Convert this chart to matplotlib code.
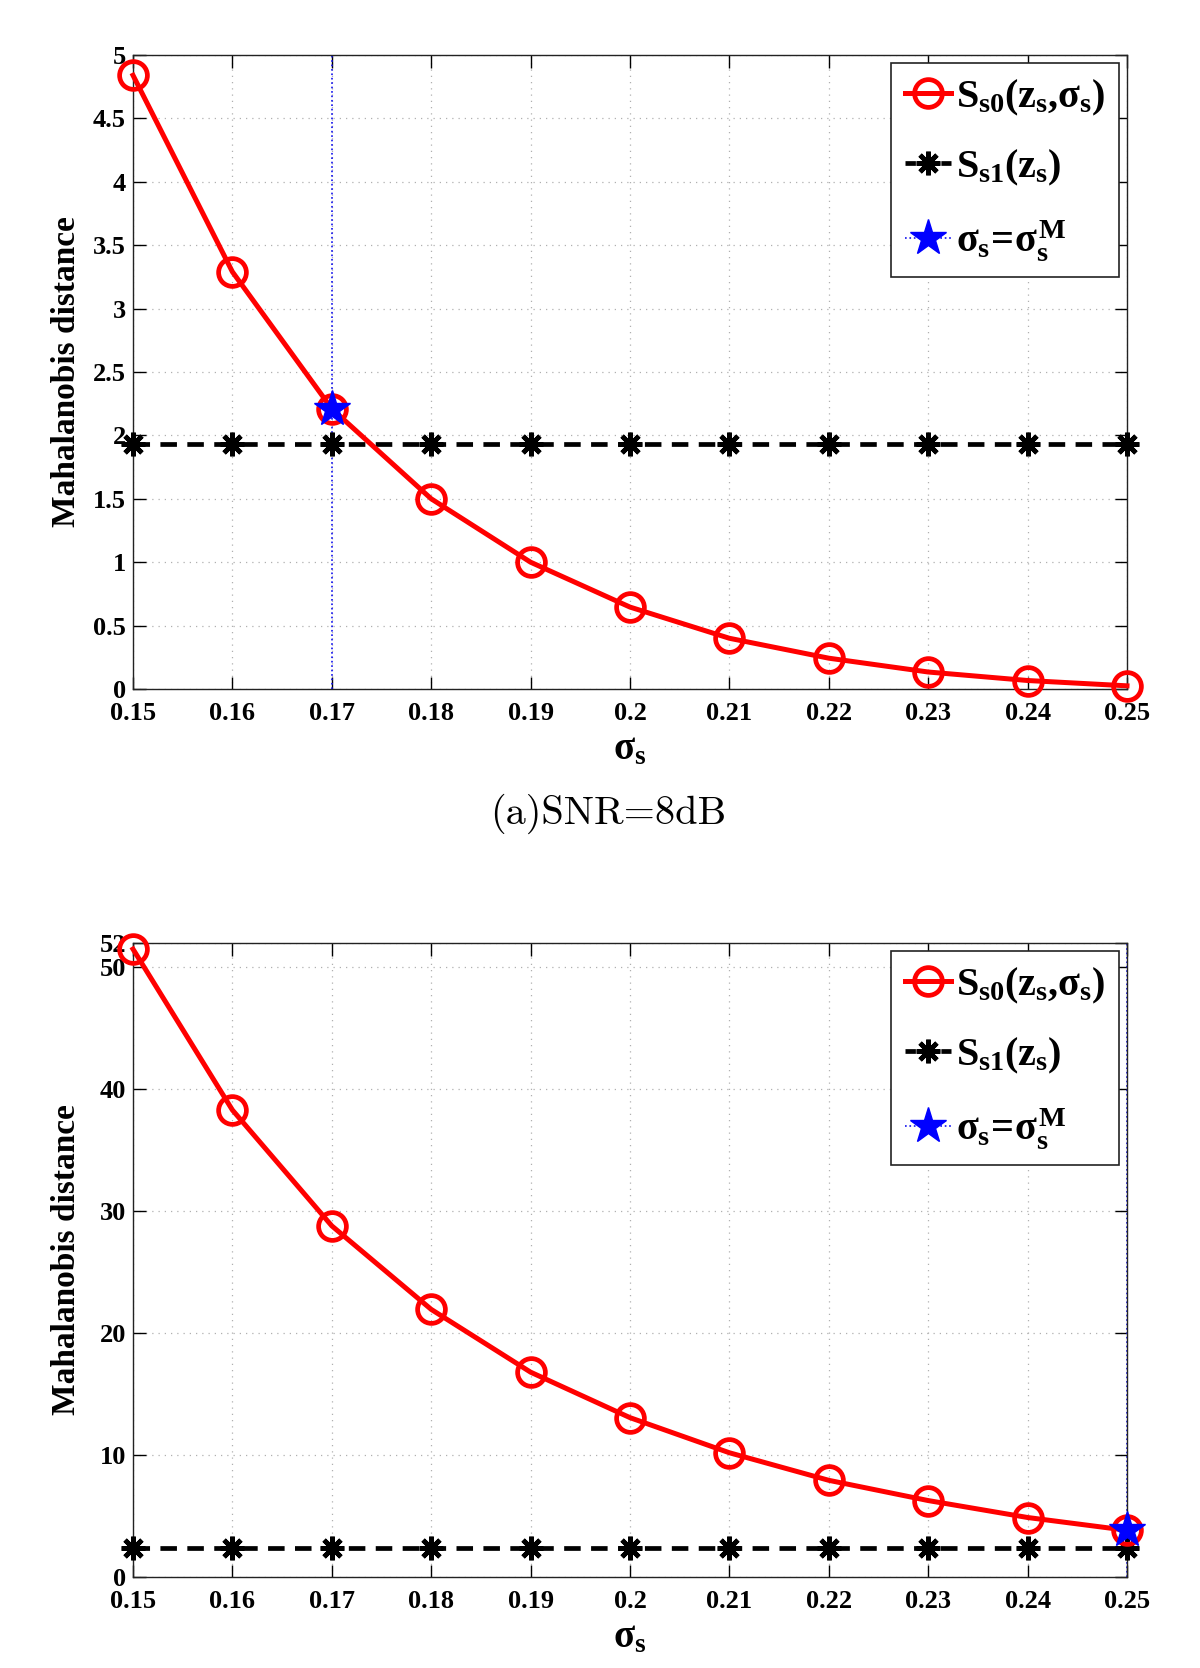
import matplotlib
matplotlib.use('Agg')
import matplotlib.pyplot as plt
from matplotlib.lines import Line2D

# ---------------- data ----------------
sigma_s = [0.15, 0.16, 0.17, 0.18, 0.19, 0.20, 0.21, 0.22, 0.23, 0.24, 0.25]
x_ticklabels = ['0.15', '0.16', '0.17', '0.18', '0.19', '0.2', '0.21', '0.22', '0.23', '0.24', '0.25']

# (a) SNR = 8 dB
s0_a = [4.84, 3.29, 2.21, 1.50, 1.00, 0.646, 0.40, 0.243, 0.134, 0.067, 0.025]
s1_a = [1.93] * 11
opt_sigma_a = 0.17
opt_value_a = 2.21
yticks_a = [0, 0.5, 1, 1.5, 2, 2.5, 3, 3.5, 4, 4.5, 5]
ytick_labels_a = ['0', '0.5', '1', '1.5', '2', '2.5', '3', '3.5', '4', '4.5', '5']
ylim_a = (0, 5)

# (b)
s0_b = [51.5, 38.3, 28.8, 21.95, 16.8, 13.07, 10.19, 7.93, 6.27, 4.88, 3.83]
s1_b = [2.35] * 11
opt_sigma_b = 0.25
opt_value_b = 3.83
yticks_b = [0, 10, 20, 30, 40, 50, 52]
ytick_labels_b = ['0', '10', '20', '30', '40', '50', '52']
ylim_b = (0, 52)

caption_a = '(a)SNR=8dB'
ylabel = 'Mahalanobis distance'
xlabel = r'$\sigma_s$'
leg_labels = [r'$S_{s0}(z_s{,}\sigma_s)$', r'$S_{s1}(z_s)$', r'$\sigma_s\!=\!\sigma_s^M$']

# ---------------- style ----------------
plt.rcParams['font.family'] = ['Liberation Serif', 'DejaVu Serif']
plt.rcParams['font.weight'] = 'bold'
plt.rcParams['mathtext.fontset'] = 'custom'
plt.rcParams['mathtext.rm'] = 'Liberation Serif:bold'
plt.rcParams['mathtext.it'] = 'Liberation Serif:bold'
plt.rcParams['mathtext.bf'] = 'Liberation Serif:bold'
plt.rcParams['mathtext.sf'] = 'Liberation Serif:bold'

fig = plt.figure(figsize=(12, 16.68), dpi=100)

W, H = 1200, 1668
def axrect(x0, x1, y0, y1):
    return [x0 / W, 1 - y1 / H, (x1 - x0) / W, (y1 - y0) / H]

ax_a = fig.add_axes(axrect(133, 1127, 55, 689))
ax_b = fig.add_axes(axrect(133, 1127, 943, 1577))

def draw(ax, s0, s1, opt_x, opt_y, yticks, ylabels, ylim):
    ax.set_xlim(0.15, 0.25)
    ax.set_ylim(*ylim)
    ax.set_xticks(sigma_s)
    ax.set_xticklabels(x_ticklabels)
    ax.set_yticks(yticks)
    ax.set_yticklabels(ylabels)
    ax.grid(True, color='#b0b0b0', linestyle=(0, (1, 4)), linewidth=0.9)
    ax.set_axisbelow(True)
    ax.tick_params(direction='in', length=9, width=1.0, top=True, right=True,
                   labelsize=19, pad=5)
    ax.tick_params(axis='x', pad=9)
    for lab in ax.get_xticklabels() + ax.get_yticklabels():
        lab.set_fontweight('bold')
    for sp in ax.spines.values():
        sp.set_linewidth(1.0)
        sp.set_color('#222222')

    ax.axvline(opt_x, color='#1010ee', linestyle=':', linewidth=1.2, zorder=2)
    ax.plot(sigma_s, s1, color='black', linestyle=(0, (3.5, 2.2)), linewidth=3.4,
            marker=(8, 2, 0), markersize=17, markeredgewidth=3.4, zorder=3, clip_on=False)
    ax.plot(sigma_s, s0, color='red', linewidth=3.6, marker='o', markersize=20,
            markerfacecolor='none', markeredgewidth=3.4, zorder=4, clip_on=False)
    ax.plot([opt_x], [opt_y], linestyle='none', marker='*', markersize=27,
            markerfacecolor='#0000ff', markeredgecolor='#0000ff', zorder=5, clip_on=False)

    handles = [
        Line2D([], [], color='red', linewidth=3.6, marker='o', markersize=20,
               markerfacecolor='none', markeredgewidth=3.4),
        Line2D([], [], color='black', linestyle=(0, (2.2, 1.6)), linewidth=3.4,
               marker=(8, 2, 0), markersize=17, markeredgewidth=3.4),
        Line2D([], [], color='#1010ee', linestyle=':', linewidth=1.2, marker='*',
               markersize=27, markerfacecolor='#0000ff', markeredgecolor='#0000ff'),
    ]
    leg = ax.legend(handles, leg_labels, loc='upper right',
                    bbox_to_anchor=(0.992, 0.987), borderaxespad=0,
                    fontsize=29, handlelength=1.15, handletextpad=0.12,
                    labelspacing=0.75, borderpad=0.35, fancybox=False,
                    framealpha=1, edgecolor='#222222')
    leg.get_frame().set_linewidth(1.2)
    leg.set_zorder(10)

    ax.set_ylabel(ylabel, fontsize=24, fontweight='bold')
    ax.yaxis.set_label_coords(-0.051, 0.5)
    ax.set_xlabel(xlabel, fontsize=28)
    ax.xaxis.set_label_coords(0.5, -0.066)

draw(ax_a, s0_a, s1_a, opt_sigma_a, opt_value_a, yticks_a, ytick_labels_a, ylim_a)
draw(ax_b, s0_b, s1_b, opt_sigma_b, opt_value_b, yticks_b, ytick_labels_b, ylim_b)

fig.text(608 / W, 1 - 814 / H, caption_a, family='cmr10', fontsize=29,
         fontweight='normal', ha='center', va='center')

fig.savefig('out.png', dpi=100)
